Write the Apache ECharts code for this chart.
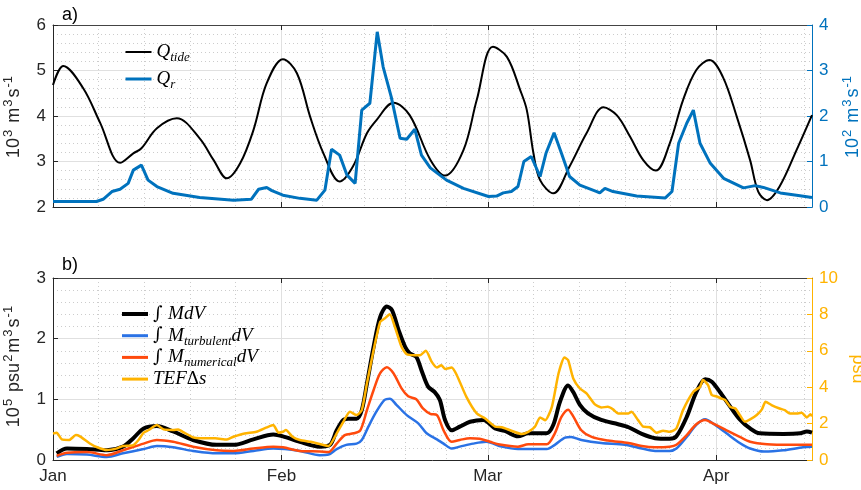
<!DOCTYPE html>
<html lang="en">
<head>
<meta charset="UTF-8">
<title>Tidal flux and mixing</title>
<script src="https://cdn.jsdelivr.net/npm/echarts@6/dist/echarts.min.js"></script>
<style>
    html, body { margin: 0; padding: 0; background: #fff; }
    #chart { width: 861px; height: 490px; }
</style>
</head>
<body>
<div id="chart"></div>
<script>
// x values are days since 1 Jan
var monthStarts = [0, 31, 59, 90];
var monthLens = [31, 28, 31, 30];
var monthNames = ['Jan', 'Feb', 'Mar', 'Apr'];
var dayEnd = 103;

// panel a) tidal flux (10^3 m3/s) and river flow (10^2 m3/s)
var tideDay = [0, 1.4, 4.1, 6.4, 9.1, 10.9, 12.0, 14.1, 16.8, 19.9, 21.8, 23.6, 25.4, 27.2, 29.0, 31.2, 33.1, 34.9, 36.7, 38.9,
    40.7, 42.6, 43.9, 46.2, 48.4, 51.2, 53.2, 55.7, 57.5, 59.7, 61.6, 63.4, 64.3, 65.2, 66.1, 67.9, 70.1, 72.4, 74.7, 76.5,
    78.3, 80.1, 81.8, 83.7, 85.5, 87.3, 89.1, 90.9, 92.8, 94.6, 95.7, 96.9, 98.6, 100.9, 103];
var tideVal = [4.68, 5.10, 4.61, 3.85, 2.97, 3.18, 3.29, 3.73, 3.95, 3.51, 3.03, 2.63, 2.96, 3.69, 4.72, 5.25, 4.94, 3.98, 3.18, 2.56,
    2.89, 3.62, 3.91, 4.29, 4.02, 3.04, 2.69, 3.25, 4.35, 5.52, 5.30, 4.57, 4.13, 3.18, 2.59, 2.30, 2.89, 3.62, 4.19, 4.02,
    3.55, 3.03, 2.80, 3.40, 4.35, 5.01, 5.23, 4.86, 3.98, 3.03, 2.34, 2.15, 2.45, 3.25, 4.02];

var rivDay = [0, 5.9, 6.8, 8.0, 9.1, 10.2, 10.9, 12.0, 12.9, 14.1, 16.3, 19.9, 24.5, 26.9, 27.9, 29.0, 29.7, 31.2, 33.5, 35.8,
    36.9, 37.8, 38.9, 39.9, 41.0, 41.9, 43.0, 44.0, 44.8, 45.9, 47.1, 48.0, 49.1, 50.0, 51.2, 53.4, 55.7, 59.1, 60.2, 61.1,
    62.2, 63.1, 63.9, 64.9, 66.1, 66.9, 68.0, 69.0, 70.1, 71.5, 73.8, 74.2, 74.9, 76.0, 79.2, 83.1, 84.0, 84.9, 86.0, 86.9,
    87.8, 89.2, 91.0, 93.7, 95.3, 96.4, 98.7, 100.9, 103];
var rivVal = [0.12, 0.12, 0.17, 0.34, 0.39, 0.52, 0.81, 0.92, 0.59, 0.45, 0.30, 0.21, 0.15, 0.17, 0.39, 0.43, 0.36, 0.26, 0.19, 0.15,
    0.37, 1.27, 1.14, 0.70, 0.52, 2.13, 2.28, 3.85, 3.08, 2.42, 1.51, 1.49, 1.71, 1.14, 0.86, 0.59, 0.41, 0.23, 0.24, 0.31,
    0.34, 0.45, 1.00, 1.11, 0.67, 1.18, 1.63, 1.18, 0.67, 0.48, 0.34, 0.31, 0.41, 0.34, 0.24, 0.20, 0.34, 1.40, 1.84, 2.13,
    1.40, 0.96, 0.63, 0.42, 0.47, 0.43, 0.31, 0.26, 0.21];

// panel b) mixing (10^5 psu2 m3/s) and TEF salinity difference (psu)
var mixDay = [0.5, 1.9, 4.6, 7.3, 9.5, 10.9, 12.3, 14.1, 16.3, 19.0, 22.2, 24.5, 27.2, 29.9, 31.2, 33.5, 36.2, 37.6, 38.5, 39.4,
    40.1, 41.2, 41.9, 42.6, 43.5, 44.4, 45.3, 46.0, 46.9, 47.8, 48.4, 49.3, 50.0, 50.9, 51.8, 52.5, 53.2, 54.1, 55.2, 56.6,
    58.4, 60.0, 61.3, 63.1, 64.5, 65.8, 67.0, 67.9, 68.8, 69.9, 70.6, 71.5, 72.6, 74.4, 76.7, 78.1, 79.9, 81.7, 83.7, 84.6,
    86.0, 87.3, 88.5, 89.4, 90.5, 91.9, 93.2, 94.6, 95.9, 99.1, 101.4, 102.3, 103];
var mixVal = [0.11, 0.19, 0.18, 0.16, 0.22, 0.36, 0.52, 0.56, 0.47, 0.33, 0.25, 0.25, 0.34, 0.42, 0.39, 0.30, 0.22, 0.25, 0.49, 0.66,
    0.68, 0.68, 0.82, 1.26, 1.86, 2.36, 2.53, 2.47, 2.14, 1.86, 1.76, 1.70, 1.48, 1.21, 1.12, 0.99, 0.66, 0.49, 0.55, 0.63,
    0.66, 0.52, 0.48, 0.39, 0.44, 0.44, 0.44, 0.58, 0.96, 1.23, 1.12, 0.91, 0.77, 0.66, 0.59, 0.54, 0.43, 0.36, 0.35, 0.39,
    0.71, 1.12, 1.33, 1.29, 1.12, 0.88, 0.67, 0.52, 0.44, 0.43, 0.44, 0.47, 0.45];

var turbDay = [0.5, 1.9, 4.6, 7.3, 9.5, 12.3, 14.1, 16.3, 19.0, 22.2, 24.5, 27.2, 29.9, 33.5, 36.2, 37.4, 38.5, 39.8, 41.2, 41.9,
    42.8, 43.9, 45.0, 45.7, 46.6, 48.0, 49.6, 50.7, 52.1, 53.0, 54.1, 55.2, 57.0, 58.8, 60.9, 63.1, 67.0, 68.1, 69.5, 70.3,
    71.7, 74.4, 77.6, 79.9, 81.7, 83.7, 84.6, 86.0, 87.3, 88.5, 89.6, 91.4, 93.2, 94.6, 96.5, 99.1, 101.8, 103];
var turbVal = [0.05, 0.10, 0.09, 0.05, 0.11, 0.18, 0.23, 0.21, 0.15, 0.11, 0.11, 0.15, 0.19, 0.15, 0.08, 0.09, 0.18, 0.25, 0.27, 0.33,
    0.55, 0.80, 0.99, 1.01, 0.91, 0.74, 0.60, 0.44, 0.34, 0.27, 0.19, 0.22, 0.27, 0.30, 0.22, 0.18, 0.18, 0.25, 0.37, 0.38,
    0.33, 0.28, 0.25, 0.19, 0.15, 0.15, 0.19, 0.38, 0.58, 0.67, 0.60, 0.44, 0.28, 0.19, 0.14, 0.16, 0.21, 0.22];

var numDay = [0.5, 1.9, 4.6, 7.3, 9.5, 12.3, 14.1, 16.3, 19.0, 22.2, 24.5, 27.2, 29.9, 31.2, 33.5, 36.2, 37.4, 38.5, 39.6, 40.8,
    41.7, 42.6, 43.5, 44.4, 45.3, 46.2, 47.3, 48.2, 49.3, 50.2, 51.2, 52.1, 53.0, 54.1, 55.2, 56.6, 57.9, 59.3, 60.4, 63.1,
    64.5, 67.0, 68.1, 69.0, 69.9, 70.6, 71.7, 73.1, 75.3, 78.1, 79.9, 81.7, 83.7, 84.6, 86.0, 87.3, 88.5, 89.6, 91.4, 93.2,
    94.6, 96.9, 100, 103];
var numVal = [0.07, 0.12, 0.13, 0.08, 0.16, 0.27, 0.33, 0.30, 0.22, 0.16, 0.15, 0.19, 0.22, 0.21, 0.15, 0.14, 0.13, 0.27, 0.41, 0.44,
    0.49, 0.82, 1.15, 1.43, 1.53, 1.43, 1.18, 1.05, 1.00, 0.85, 0.76, 0.74, 0.49, 0.30, 0.33, 0.36, 0.35, 0.30, 0.26, 0.22,
    0.26, 0.26, 0.44, 0.71, 0.83, 0.72, 0.49, 0.38, 0.32, 0.28, 0.23, 0.21, 0.22, 0.25, 0.41, 0.59, 0.66, 0.60, 0.49, 0.38,
    0.30, 0.26, 0.25, 0.25];

var tefDay = [0, 0.5, 1.2, 2.2, 3.1, 3.6, 5.0, 6.0, 7.3, 8.7, 9.5, 10.9, 11.6, 12.3, 13.0, 14.1, 15.0, 16.3, 17.0, 17.6,
    19.0, 20.0, 22.0, 23.6, 24.5, 26.0, 27.6, 29.0, 29.9, 30.6, 31.2, 31.6, 32.5, 33.5, 35.0, 36.2, 37.4, 38.5, 39.4, 40.3,
    41.2, 41.9, 42.6, 43.5, 44.4, 45.0, 45.7, 46.4, 47.3, 48.0, 49.1, 49.8, 50.6, 51.4, 52.1, 52.7, 53.2, 54.1, 54.8, 56.1,
    57.5, 58.6, 60.0, 60.9, 62.2, 63.6, 64.5, 65.4, 66.1, 66.8, 67.7, 68.6, 69.4, 69.9, 70.6, 71.5, 72.4, 73.5, 74.4, 75.3,
    76.0, 76.7, 78.1, 78.5, 79.4, 80.1, 81.0, 81.9, 82.8, 83.7, 84.6, 85.5, 86.9, 87.8, 88.2, 88.9, 89.4, 90.0, 90.7, 91.2,
    91.9, 92.6, 93.2, 93.9, 94.6, 95.5, 96.2, 96.7, 97.5, 98.6, 99.3, 100.0, 101.1, 101.6, 102.3, 102.8, 103];
var tefVal = [1.46, 1.50, 1.13, 1.10, 1.37, 1.31, 0.91, 0.70, 0.55, 0.64, 0.77, 0.82, 1.10, 1.50, 1.65, 1.92, 1.68, 1.65, 1.68, 1.55,
    1.24, 1.19, 1.19, 1.13, 1.28, 1.46, 1.55, 1.79, 1.92, 1.50, 1.55, 1.65, 1.28, 1.10, 1.00, 0.88, 0.77, 1.46, 2.10, 2.65,
    2.47, 2.74, 4.20, 6.03, 7.59, 7.77, 8.01, 7.31, 6.22, 5.81, 5.76, 5.76, 6.00, 5.39, 5.08, 5.21, 5.00, 5.08, 4.66, 3.47,
    2.56, 2.29, 1.83, 1.80, 1.61, 1.43, 1.55, 1.83, 2.34, 2.19, 2.92, 4.75, 5.63, 5.49, 4.48, 3.93, 3.66, 3.07, 2.89, 2.92,
    2.78, 2.56, 2.56, 2.65, 2.19, 1.83, 1.80, 1.50, 1.61, 1.55, 1.74, 2.74, 3.75, 4.02, 4.39, 4.11, 3.57, 3.50, 3.38, 3.30,
    2.92, 2.83, 2.47, 2.10, 2.23, 2.47, 2.78, 3.20, 3.02, 2.83, 2.74, 2.56, 2.56, 2.60, 2.34, 2.52, 2.40];

function pairs(xs, ys) {
    return xs.map(function (x, i) { return [x, ys[i]]; });
}

// dotted grid: each month split in five
var minorDays = [];
monthStarts.forEach(function (s, i) {
    for (var k = 1; k < 5; k++) {
        var d = s + k * monthLens[i] / 5;
        if (d < dayEnd) minorDays.push(d);
    }
});

var axisColor = '#262626';
var gridMajor = '#e0e0e0';
var gridMinor = '#cccccc';
var sans = '"Liberation Sans", Arial, sans-serif';
var serif = '"Liberation Serif", "DejaVu Serif", serif';

function xAxes(gridIndex, showLabels) {
    return [
        {
            type: 'value', gridIndex: gridIndex, position: 'bottom', min: 0, max: dayEnd,
            axisLine: { show: true, onZero: false, lineStyle: { color: axisColor } },
            axisTick: { show: true, inside: true, length: 5, customValues: monthStarts, lineStyle: { color: axisColor } },
            axisLabel: {
                show: showLabels, customValues: monthStarts, margin: 8, fontSize: 17, color: axisColor, fontFamily: sans,
                formatter: function (v) { var i = monthStarts.indexOf(v); return i < 0 ? '' : monthNames[i]; }
            },
            splitLine: { show: true, lineStyle: { color: gridMajor, width: 1 } }
        },
        {
            type: 'value', gridIndex: gridIndex, position: 'top', min: 0, max: dayEnd,
            axisLine: { show: true, onZero: false, lineStyle: { color: '#444' } },
            axisTick: { show: true, inside: true, length: 5, customValues: monthStarts, lineStyle: { color: axisColor } },
            axisLabel: { show: false },
            splitLine: { show: false }
        },
        {
            type: 'value', gridIndex: gridIndex, min: 0, max: dayEnd,
            axisLine: { show: false },
            axisTick: { show: false, customValues: minorDays },
            axisLabel: { show: false },
            splitLine: { show: true, lineStyle: { color: gridMinor, type: [1, 3], width: 1 } }
        }
    ];
}

function unitName(parts) {
    // parts: [text, isSuperscript]
    return parts.map(function (p) { return '{' + (p[1] ? 'sup' : 'n') + '|' + p[0] + '}'; }).join('');
}

function nameStyle(color, pad) {
    return {
        color: color,
        padding: pad || 0,
        rich: {
            n: { fontSize: 18, fontFamily: sans, color: color, lineHeight: 22 },
            sup: { fontSize: 13, fontFamily: sans, color: color, lineHeight: 22, padding: [0, 2, 12, 1] }
        }
    };
}

function yAxis(gridIndex, pos, min, max, interval, color, withGrid, name, nameGap, nameRotate, namePad) {
    return {
        type: 'value', gridIndex: gridIndex, position: pos, min: min, max: max, interval: interval,
        axisLine: { show: true, onZero: false, lineStyle: { color: color } },
        axisTick: { show: true, inside: true, length: 5, lineStyle: { color: color } },
        axisLabel: { fontSize: 17, color: color, fontFamily: sans, margin: 7 },
        splitLine: { show: withGrid, lineStyle: { color: gridMajor } },
        minorTick: { show: false, splitNumber: 5 },
        minorSplitLine: { show: withGrid, lineStyle: { color: gridMinor, type: [1, 3] } },
        name: name, nameLocation: 'middle', nameGap: nameGap, nameRotate: nameRotate,
        nameMoveOverlap: false,
        nameTextStyle: nameStyle(color, namePad)
    };
}

// every entry ends with a subscript token so all rows get the same height
var legendNames = {
    Qtide: '{m|Q}{s|tide}',
    Qr: '{m|Q}{s|r}',
    M: '{i|\u222B }{m|MdV}{s| }',
    Mturb: '{i|\u222B }{m|M}{s|turbulent}{m|dV}',
    Mnum: '{i|\u222B }{m|M}{s|numerical}{m|dV}',
    TEF: '{m|TEF}{u|\u0394}{m|s}{s| }'
};

function legendRich(size, lh) {
    return {
        m: { fontFamily: serif, fontStyle: 'italic', fontSize: size, lineHeight: lh, color: '#000' },
        s: { fontFamily: serif, fontStyle: 'italic', fontSize: Math.round(size * 0.7), lineHeight: lh, padding: [11, 0, 0, 0], color: '#000' },
        i: { fontFamily: '"DejaVu Serif", serif', fontSize: size - 1, lineHeight: lh, color: '#000' },
        u: { fontFamily: serif, fontSize: size, lineHeight: lh, color: '#000' }
    };
}

var blue = '#0072BD';
var orange = '#FFB300';
var turbBlue = '#2A72E5';
var numRed = '#FF4A0D';

var myChart = echarts.init(document.getElementById('chart'));

var option = {
    animation: false,
    backgroundColor: '#fff',
    grid: [
        { left: 53, top: 25, width: 759, height: 182, outerBoundsMode: 'none', containLabel: false },
        { left: 53, top: 278, width: 759, height: 182, outerBoundsMode: 'none', containLabel: false }
    ],
    xAxis: xAxes(0, false).concat(xAxes(1, true)),
    yAxis: [
        yAxis(0, 'left', 2, 6, 1, axisColor, true,
            unitName([['10', 0], ['3', 1], [' m', 0], ['3', 1], ['s', 0], ['-1', 1]]), 28, 90, [6, 0, 0, 0]),
        yAxis(0, 'right', 0, 4, 1, blue, false,
            unitName([['10', 0], ['2', 1], [' m', 0], ['3', 1], ['s', 0], ['-1', 1]]), 30, 90, [0, 0, 4, 0]),
        yAxis(1, 'left', 0, 3, 1, axisColor, true,
            unitName([['10', 0], ['5', 1], [' psu', 0], ['2', 1], ['m', 0], ['3', 1], ['s', 0], ['-1', 1]]), 28, 90, [6, 0, 0, 7]),
        yAxis(1, 'right', 0, 10, 2, orange, false, '{n|psu}', 35, -90, [2, 0, 0, 0])
    ],
    legend: [
        {
            data: [
                { name: 'Qtide', lineStyle: { width: 2 } },
                { name: 'Qr', lineStyle: { width: 3 } }
            ],
            orient: 'vertical', left: 119, top: 35,
            itemWidth: 26, itemHeight: 12, itemGap: 3,
            itemStyle: { opacity: 0 },
            formatter: function (n) { return legendNames[n]; },
            textStyle: { rich: legendRich(19, 22) }
        },
        {
            data: [
                { name: 'M', lineStyle: { width: 4 } },
                { name: 'Mturb', lineStyle: { width: 3 } },
                { name: 'Mnum', lineStyle: { width: 3 } },
                { name: 'TEF', lineStyle: { width: 3 } }
            ],
            orient: 'vertical', left: 115, top: 297,
            itemWidth: 26, itemHeight: 12, itemGap: -2.3,
            itemStyle: { opacity: 0 },
            formatter: function (n) { return legendNames[n]; },
            textStyle: { rich: legendRich(19, 20) }
        }
    ],
    graphic: [
        { type: 'text', left: 62, top: 6, style: { text: 'a)', font: '18px ' + sans, fill: '#000' } },
        { type: 'text', left: 62, top: 256, style: { text: 'b)', font: '18px ' + sans, fill: '#000' } }
    ],
    series: [
        {
            name: 'Qtide', type: 'line', xAxisIndex: 0, yAxisIndex: 0, data: pairs(tideDay, tideVal),
            smooth: 0.35, symbol: 'none', color: '#000', lineStyle: { color: '#000', width: 2 }
        },
        {
            name: 'Qr', type: 'line', xAxisIndex: 0, yAxisIndex: 1, data: pairs(rivDay, rivVal),
            symbol: 'none', color: blue, lineStyle: { color: blue, width: 3 }
        },
        {
            name: 'M', type: 'line', xAxisIndex: 3, yAxisIndex: 2, data: pairs(mixDay, mixVal),
            smooth: 0.3, symbol: 'none', color: '#000', lineStyle: { color: '#000', width: 4 }
        },
        {
            name: 'Mturb', type: 'line', xAxisIndex: 3, yAxisIndex: 2, data: pairs(turbDay, turbVal),
            smooth: 0.3, symbol: 'none', color: turbBlue, lineStyle: { color: turbBlue, width: 2.5 }
        },
        {
            name: 'Mnum', type: 'line', xAxisIndex: 3, yAxisIndex: 2, data: pairs(numDay, numVal),
            smooth: 0.3, symbol: 'none', color: numRed, lineStyle: { color: numRed, width: 2.5 }
        },
        {
            name: 'TEF', type: 'line', xAxisIndex: 3, yAxisIndex: 3, data: pairs(tefDay, tefVal),
            smooth: 0.2, symbol: 'none', color: orange, lineStyle: { color: orange, width: 2.5 }
        }
    ]
};

myChart.setOption(option);
</script>
</body>
</html>
